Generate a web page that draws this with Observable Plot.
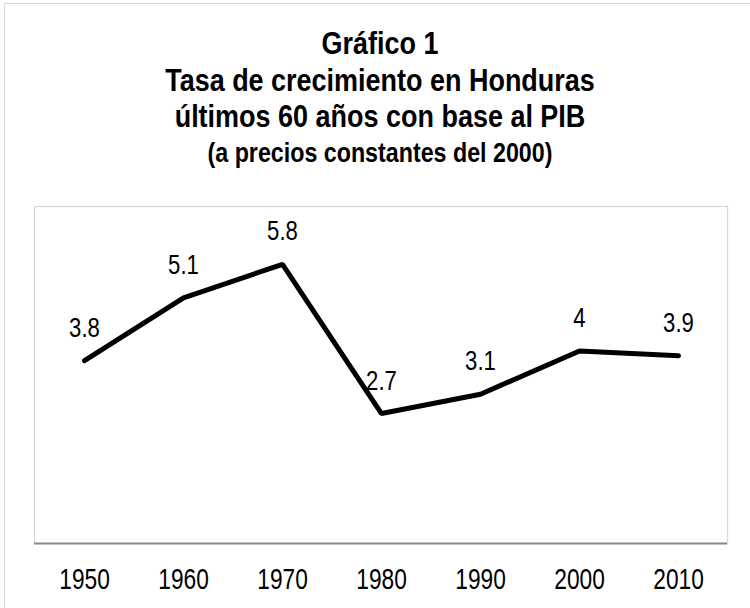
<!DOCTYPE html>
<html>
<head>
<meta charset="utf-8">
<script src="https://cdn.jsdelivr.net/npm/d3@7"></script>
<script src="https://cdn.jsdelivr.net/npm/@observablehq/plot@0.6"></script>
<style>
  html, body { margin: 0; padding: 0; background: #fff; }
  #wrap { position: relative; width: 750px; height: 608px; overflow: hidden; background: #fff; font-family: "Liberation Sans", Arial, sans-serif; }
  .tl { position: absolute; left: 0; width: 760px; text-align: center; font-weight: bold; color: #000; white-space: nowrap; line-height: 1; }
  #frame { position: absolute; left: 4px; top: 3px; width: 900px; height: 900px; border: 1.5px solid #d9d9d9; box-sizing: border-box; pointer-events: none; }
  #chart { position: absolute; left: 0; top: 180px; }
</style>
</head>
<body>
<div id="wrap">
  <div id="frame"></div>
  <div class="tl" id="t1"></div>
  <div class="tl" id="t2"></div>
  <div class="tl" id="t3"></div>
  <div class="tl" id="t4"></div>
  <div id="chart"></div>
</div>
<script>
// ---- data ----
const years = ["1950", "1960", "1970", "1980", "1990", "2000", "2010"];
const growth = [3.8, 5.1, 5.8, 2.7, 3.1, 4, 3.9];
const titleLines = [
  "Gráfico 1",
  "Tasa de crecimiento en Honduras",
  "últimos 60 años con base al PIB",
  "(a precios constantes del 2000)"
];

// ---- title ----
const titleStyle = [
  {size: 31, top: 27.5, sx: 0.87},
  {size: 31, top: 64.5, sx: 0.87},
  {size: 31, top: 100.5, sx: 0.87},
  {size: 28, top: 139, sx: 0.83}
];
titleLines.forEach((txt, i) => {
  const el = document.getElementById("t" + (i + 1));
  el.textContent = txt;
  el.style.fontSize = titleStyle[i].size + "px";
  el.style.top = titleStyle[i].top + "px";
  el.style.transform = `scaleX(${titleStyle[i].sx})`;
});

const data = years.map((y, i) => ({year: y, value: growth[i]}));

const svg = Plot.plot({
  width: 750,
  height: 428,
  marginTop: 26,
  marginBottom: 65,
  marginLeft: 34,
  marginRight: 23,
  style: {background: "transparent", fontFamily: "'Liberation Sans', Arial, sans-serif", color: "#000"},
  x: {type: "point", domain: years, padding: 0.5, label: null},
  y: {domain: [0, 7], axis: null},
  marks: [
    Plot.frame({stroke: "#d9d9d9", strokeWidth: 1.3}),
    Plot.ruleY([0], {stroke: "#8a8a8a", strokeWidth: 2}),
    Plot.line(data, {x: "year", y: "value", stroke: "#000", strokeWidth: 5, strokeLinejoin: "miter", strokeLinecap: "round"}),
    Plot.text(data, {x: "year", y: "value", text: d => String(d.value), lineAnchor: "bottom", dy: -24, fontSize: 27, fill: "#000"}),
    Plot.axisX({tickSize: 0, tickPadding: 25, fontSize: 29.5, fill: "#000", label: null})
  ]
});
document.getElementById("chart").appendChild(svg);

// horizontal condensing of SVG text (narrow font look)
function condense(sel, s) {
  svg.querySelectorAll(sel).forEach(t => {
    const tr = t.getAttribute("transform");
    if (tr) t.setAttribute("transform", tr + ` scale(${s},1)`);
    else {
      const x = parseFloat(t.getAttribute("x") || 0);
      t.removeAttribute("x");
      t.setAttribute("transform", `translate(${x},0) scale(${s},1)`);
    }
  });
}
condense("g[aria-label='text'] text", 0.82);
condense("g[aria-label='x-axis tick label'] text", 0.77);
</script>
</body>
</html>
